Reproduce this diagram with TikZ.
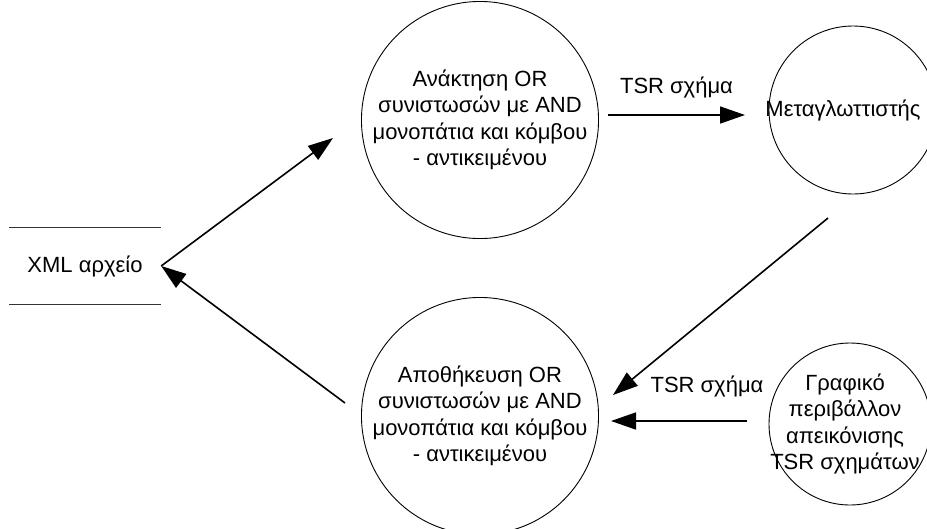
\documentclass[tikz,border=0pt]{standalone}
\usepackage{fontspec}
\setmainfont{Liberation Sans}
\usetikzlibrary{arrows.meta}
\begin{document}
\begin{tikzpicture}[x=1pt,y=-1pt,
  every node/.style={font=\fontsize{22}{26.5}\selectfont, inner sep=0pt},
  process/.style={draw, circle, line width=0.9pt, align=center},
  flow/.style={line width=1.6pt, -{Triangle[length=25pt,width=17pt]}},
  storeline/.style={line width=0.9pt, draw=black!80}]
\useasboundingbox (0,0) rectangle (927,528);

% processes
\node[process, minimum size=234pt] (retrieve) at (480,120)
  {Ανάκτηση OR\\συνιστωσών με AND\\μονοπάτια και κόμβου\\- αντικειμένου};
\node[process, minimum size=168pt,
  label={[xshift=-10pt]center:Μεταγλωττιστής}] (compiler) at (853,110) {};
\node[process, minimum size=222pt] (store) at (480,416)
  {Αποθήκευση OR\\συνιστωσών με AND\\μονοπάτια και κόμβου\\- αντικειμένου};
\node[process, minimum size=162pt,
  label={[xshift=-5pt,align=center]center:Γραφικό\\περιβάλλον\\απεικόνισης\\TSR σχημάτων}]
  (gui) at (850,424) {};

% data store
\node[minimum width=152pt, minimum height=76pt] (xml) at (85,266) {XML αρχείο};
\draw[storeline] (xml.north west) -- (xml.north east);
\draw[storeline] (xml.south west) -- (xml.south east);

% connector end points
\coordinate (r-in)   at (333,138);
\coordinate (s-out)  at (345,403);
\coordinate (r-out)  at (608,115);
\coordinate (c-in)   at (745,115);
\coordinate (c-out)  at (828,218);
\coordinate (s-in1)  at (613,395);
\coordinate (g-out)  at (747,421);
\coordinate (s-in2)  at (611,421);

% flows
\draw[flow] (xml.east) -- (r-in);
\draw[flow] (s-out) -- (xml.east);
\draw[flow] (r-out) -- node[above=16pt] (lbl1) {TSR σχήμα} (c-in);
\draw[flow] (c-out) -- (s-in1);
\draw[flow] (g-out) -- (s-in2);
\node (lbl2) at (707,386) {TSR σχήμα};
\end{tikzpicture}
\end{document}
